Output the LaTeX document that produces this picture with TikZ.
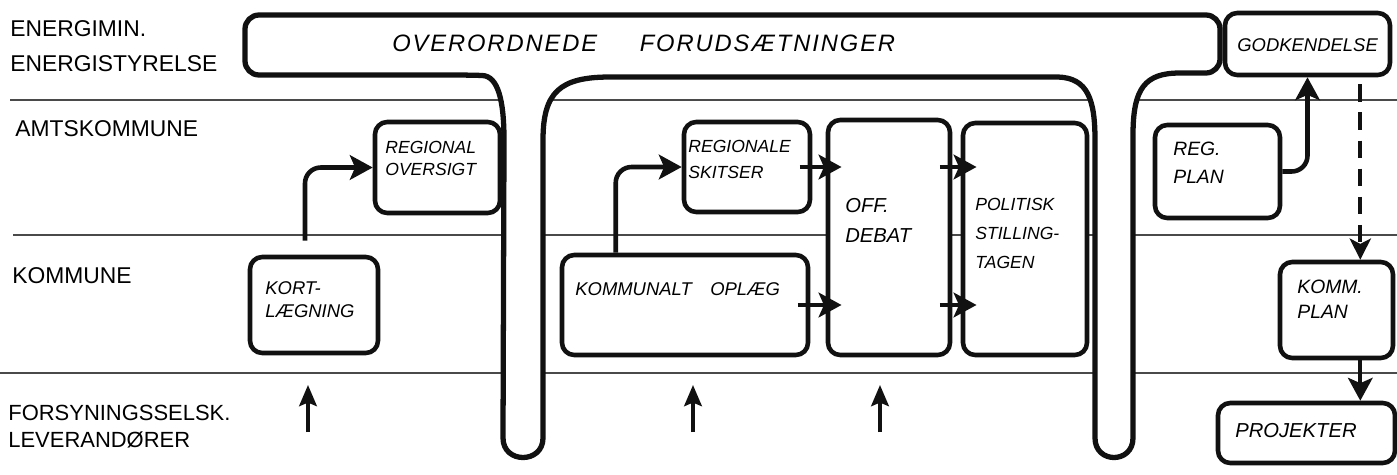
\documentclass[tikz,border=0pt]{standalone}
\usepackage{fontspec}
\setmainfont{Liberation Sans}
\newfontfamily\spaced[LetterSpace=8]{Liberation Sans}
\usetikzlibrary{arrows.meta,positioning,fit,calc}
\definecolor{ink}  {HTML}{111111}
\definecolor{rule} {HTML}{4A4A4A}
\tikzset{
  lane/.style={draw=rule,line width=0.8pt},
  pipe/.style={draw=ink,line width=3pt,fill=white,line join=round},
  box/.style={draw=ink,line width=2.6pt,fill=white,rounded corners=7pt,inner sep=0pt},
  lbl/.style={font=\itshape\fontsize{10.5}{14}\selectfont,align=left,anchor=north west,inner sep=0pt},
  role/.style={font=\fontsize{13}{20}\selectfont,align=left,anchor=north west,inner sep=0pt},
  flow/.style={draw=ink,line width=2.6pt,rounded corners=9pt,-{Stealth[length=13pt,width=14pt,inset=3pt]}},
  thru/.style={flow,shorten <=-7pt,shorten >=-9pt},
  dashflow/.style={draw=ink,line width=2.4pt,dash pattern=on 10pt off 6pt,-{Stealth[length=12pt,width=12pt,inset=3pt]}},
  feed/.style={draw=ink,line width=2.2pt,-{Stealth[length=12pt,width=10pt,inset=2pt]}}
}
\begin{document}
\begin{tikzpicture}[x=0.02cm,y=-0.02cm]
\useasboundingbox[fill=white] (0,0) rectangle (1397,474);
\foreach \y/\a in {100/10,235/13,373/0} \draw[lane] (\a,\y) -- (1397,\y);

\draw[pipe] (1180,73) [rounded corners=8pt] -- (1220,73) -- (1220,15) -- (245,15) -- (245,75) -- (468,75)
  [sharp corners] .. controls (498,76) and (504,100) .. (504,140) -- (503,438)
  .. controls (503,464) and (543,464) .. (543,438) -- (543,140)
  .. controls (543,92) and (560,77) .. (610,77) -- (1058,77)
  .. controls (1088,78) and (1095,100) .. (1095,140) -- (1095,438)
  .. controls (1095,464) and (1133,464) .. (1133,438) -- (1133,135)
  .. controls (1133,88) and (1145,73) .. (1180,73) -- cycle;
\node (prem) [lbl,font=\itshape\spaced\fontsize{13.5}{16}\selectfont] at (392,35) {OVERORDNEDE\hspace{1.8em}FORUDSÆTNINGER};

\node (energ) [role] at (10,20) {ENERGIMIN.\\ENERGISTYRELSE};
\node (amt)   [role] at (15,120) {AMTSKOMMUNE};
\node (komm)  [role] at (12,267) {KOMMUNE};
\node (forsy) [role,font=\fontsize{12.5}{15}\selectfont] at (8,405) {FORSYNINGSSELSK.\\LEVERANDØRER};

\node (godk)    [box,fit={(1225,13) (1390,75)}] {};
\node (regov)   [box,fit={(375,122) (500,213)}] {};
\node (kort)    [box,fit={(250,257) (378,353)}] {};
\node (regsk)   [box,fit={(684,122) (810,212)}] {};
\node (kommop)  [box,fit={(562,255) (808,355)}] {};
\node (offd)    [box,fit={(828,120) (950,355)}] {};
\node (polit)   [box,fit={(963,123) (1087,355)}] {};
\node (regplan) [box,fit={(1155,125) (1280,218)}] {};
\node (kplan)   [box,fit={(1280,262) (1393,358)}] {};
\node (proj)    [box,fit={(1218,403) (1395,463)}] {};

\node (godk-t)    [lbl] at (1237,38)  {GODKENDELSE};
\node (regov-t)   [lbl,font=\itshape\fontsize{10}{12.5}\selectfont] at (385,141) {REGIONAL\\OVERSIGT};
\node (kort-t)    [lbl,font=\itshape\fontsize{10.5}{13}\selectfont] at (265,281) {KORT-\\LÆGNING};
\node (regsk-t)   [lbl,font=\itshape\fontsize{10}{15}\selectfont] at (688,140) {REGIONALE\\SKITSER};
\node (kommop-t)  [lbl] at (575,282) {KOMMUNALT\hspace{1em}OPLÆG};
\node (offd-t)    [lbl,font=\itshape\fontsize{11.5}{17}\selectfont] at (845,198) {OFF.\\DEBAT};
\node (polit-t)   [lbl,font=\itshape\fontsize{10}{16.5}\selectfont] at (975,198) {POLITISK\\STILLING-\\TAGEN};
\node (regplan-t) [lbl,font=\itshape\fontsize{11}{15.5}\selectfont] at (1173,142) {REG.\\PLAN};
\node (kplan-t)   [lbl,font=\itshape\fontsize{11}{14}\selectfont] at (1297,280) {KOMM.\\PLAN};
\node (proj-t)    [lbl,font=\itshape\fontsize{11.5}{14}\selectfont] at (1235,423) {PROJEKTER};

\draw[flow] ([shift={(-9,-14)}]kort.north) |- (regov.west);
\draw[flow] ([shift={(56,0)}]kommop.north west) |- (regsk.west);
\draw[thru] (regsk.east) -- (offd.west |- regsk.east);
\draw[thru] (kommop.east) -- (offd.west |- kommop.east);
\draw[thru] (offd.east |- regsk.east) -- (polit.west |- regsk.east);
\draw[thru] (offd.east |- kommop.east) -- (polit.west |- kommop.east);
\draw[flow] (regplan.east) -| (godk.south);
\coordinate (drop) at ([xshift=-0.64cm]godk.south east);
\draw[dashflow] ([yshift=-4pt]drop) -- (drop |- kplan.north);
\draw[flow,line width=2.2pt] (drop |- kplan.south) -- (drop |- proj.north);
\foreach \x/\n in {308/a,693/b,880/c} {
  \coordinate (feed\n) at (\x,432);
  \draw[feed] (feed\n) -- ++(0,-47);
}
\end{tikzpicture}
\end{document}
